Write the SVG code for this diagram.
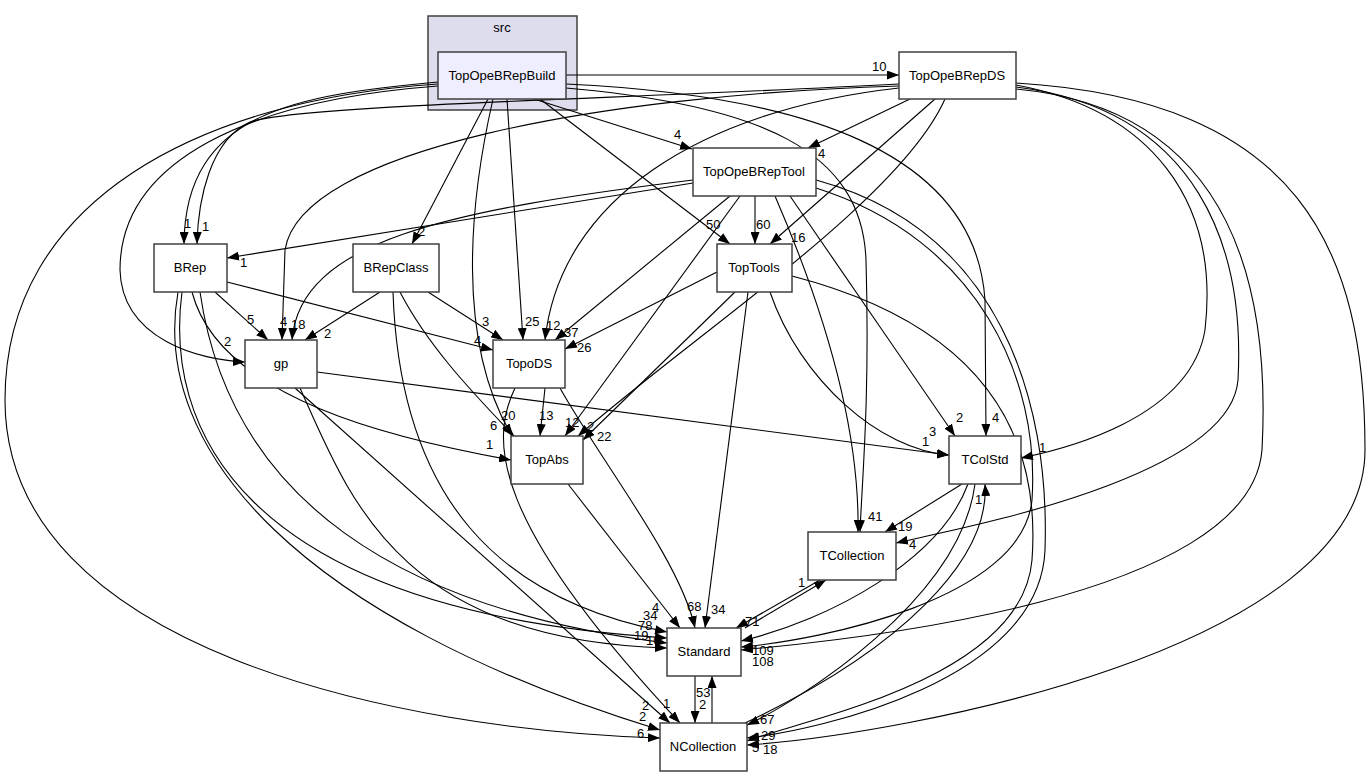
<svg xmlns="http://www.w3.org/2000/svg" width="1368" height="777" viewBox="0 0 1368 777">
<defs>
<marker id="ah" markerWidth="12" markerHeight="9" refX="12" refY="4.5" orient="auto" markerUnits="userSpaceOnUse"><path d="M0,0 L12,4.5 L0,9 z" fill="#000"/></marker>
<style>
.n rect{fill:#fff;stroke:#404040;stroke-width:1.5}
.n text{font-family:"Liberation Sans",Arial,sans-serif;font-size:13px;text-anchor:middle;fill:#000}
#edges path{fill:none;stroke:#000;stroke-width:1.1;marker-end:url(#ah)}
#labels text{font-family:"Liberation Sans",Arial,sans-serif;font-size:13px;fill:#000}
</style>
</defs>
<rect width="1368" height="777" fill="#fff"/>
<g id="cluster_src">
<rect x="428" y="16" width="149" height="94" fill="#ddddee" stroke="#404040" stroke-width="1.5"/>
<text x="502" y="32" font-family="Liberation Sans,Arial,sans-serif" font-size="13" text-anchor="middle">src</text>
</g>
<g id="edges">
<path d="M566,75 L899,75"/>
<path d="M534,99 L692,149"/>
<path d="M540,99 L730,244"/>
<path d="M507,99 L523,340"/>
<path d="M488,99 L412,244"/>
<path d="M493,99 C470,200 455,340 512,436"/>
<path d="M566,88 C760,105 862,150 866,260 C870,400 862,480 860,532"/>
<path d="M566,84 C800,95 975,150 985,300 L986,436"/>
<path d="M438,82 C300,95 185,110 184,244"/>
<path d="M438,86 C250,100 120,160 120,270 C122,340 200,360 245,362"/>
<path d="M438,84 C200,100 5,200 5,400 C5,650 400,730 660,738"/>
<path d="M899,84 C600,100 300,105 250,122 C210,140 198,200 197,244"/>
<path d="M910,99 L808,148"/>
<path d="M935,99 L770,244"/>
<path d="M945,99 C900,200 700,330 578,436"/>
<path d="M899,88 C700,110 560,200 545,340"/>
<path d="M899,86 C600,95 300,150 285,250 L282,340"/>
<path d="M1016,85 C1150,110 1220,200 1205,330 C1190,420 1060,450 1021,458"/>
<path d="M1016,87 C1200,110 1245,250 1238,380 C1230,480 950,530 896,543"/>
<path d="M1016,89 C1240,110 1270,300 1262,450 C1250,600 850,640 741,650"/>
<path d="M1016,83 C1300,100 1365,250 1365,450 C1365,650 900,735 747,745"/>
<path d="M755,196 L755,244"/>
<path d="M693,183 L227,258"/>
<path d="M693,180 C450,210 300,240 292,340"/>
<path d="M730,196 L555,340"/>
<path d="M740,196 L565,436"/>
<path d="M790,196 L955,436"/>
<path d="M775,196 C820,300 860,420 858,532"/>
<path d="M816,188 C980,240 1040,380 1032,500 C1022,600 820,640 741,647"/>
<path d="M816,180 C1000,230 1050,400 1045,550 C1040,680 820,730 747,738"/>
<path d="M717,272 L565,349"/>
<path d="M735,292 L583,440"/>
<path d="M770,292 C800,380 880,450 949,455"/>
<path d="M748,292 L705,628"/>
<path d="M792,276 C1000,330 1040,450 1032,560 C1022,680 800,720 747,741"/>
<path d="M215,292 L268,340"/>
<path d="M227,282 L493,350"/>
<path d="M192,292 C220,400 400,440 511,460"/>
<path d="M182,292 C165,420 230,610 667,638"/>
<path d="M200,292 C230,500 400,610 667,643"/>
<path d="M178,292 C150,450 300,620 660,730"/>
<path d="M380,292 L305,340"/>
<path d="M428,292 L503,340"/>
<path d="M400,292 C430,350 480,400 514,436"/>
<path d="M393,292 C400,500 500,600 667,632"/>
<path d="M317,372 L949,455"/>
<path d="M300,388 C350,500 400,640 667,648"/>
<path d="M295,388 L670,723"/>
<path d="M545,388 L540,436"/>
<path d="M560,388 C600,460 680,560 695,628"/>
<path d="M515,388 C490,440 490,520 680,723"/>
<path d="M568,484 L680,628"/>
<path d="M962,484 L885,532"/>
<path d="M968,484 C940,560 830,620 741,641"/>
<path d="M975,484 C960,600 800,700 747,725"/>
<path d="M820,580 L736,628"/>
<path d="M745,628 L826,580"/>
<path d="M695,676 L695,723"/>
<path d="M712,723 L712,676"/>
<path d="M745,723 C900,650 990,560 985,484"/>
</g>
<g id="labels">
<text x="872" y="71">10</text>
<text x="674" y="139">4</text>
<text x="818" y="158">4</text>
<text x="706" y="229">50</text>
<text x="756" y="229">60</text>
<text x="791" y="242">16</text>
<text x="184" y="228">1</text>
<text x="202" y="231">1</text>
<text x="240" y="267">1</text>
<text x="418" y="236">2</text>
<text x="247" y="324">5</text>
<text x="280" y="326">4</text>
<text x="291" y="329">18</text>
<text x="324" y="338">2</text>
<text x="224" y="346">2</text>
<text x="482" y="326">3</text>
<text x="474" y="345">4</text>
<text x="525" y="326">25</text>
<text x="546" y="330">12</text>
<text x="564" y="337">37</text>
<text x="577" y="352">26</text>
<text x="501" y="420">20</text>
<text x="490" y="430">6</text>
<text x="539" y="420">13</text>
<text x="565" y="427">12</text>
<text x="587" y="431">2</text>
<text x="597" y="441">22</text>
<text x="486" y="449">1</text>
<text x="956" y="422">2</text>
<text x="992" y="422">4</text>
<text x="929" y="436">3</text>
<text x="922" y="446">1</text>
<text x="1039" y="452">1</text>
<text x="975" y="504">1</text>
<text x="868" y="521">41</text>
<text x="898" y="531">19</text>
<text x="909" y="549">4</text>
<text x="798" y="587">1</text>
<text x="652" y="612">4</text>
<text x="643" y="620">34</text>
<text x="638" y="630">78</text>
<text x="634" y="640">19</text>
<text x="646" y="645">10</text>
<text x="687" y="611">68</text>
<text x="711" y="614">34</text>
<text x="745" y="626">71</text>
<text x="752" y="655">109</text>
<text x="752" y="666">108</text>
<text x="642" y="710">2</text>
<text x="639" y="721">2</text>
<text x="637" y="738">6</text>
<text x="663" y="708">1</text>
<text x="696" y="697">53</text>
<text x="699" y="709">2</text>
<text x="760" y="724">67</text>
<text x="761" y="740">29</text>
<text x="752" y="752">5</text>
<text x="763" y="754">18</text>
</g>
<g id="TopOpeBRepBuild" class="n"><rect x="438" y="52" width="128" height="47" style="fill:#eeeeff"/><text x="502" y="80">TopOpeBRepBuild</text></g>
<g id="TopOpeBRepDS" class="n"><rect x="899" y="52" width="117" height="47"/><text x="957" y="80">TopOpeBRepDS</text></g>
<g id="TopOpeBRepTool" class="n"><rect x="693" y="148" width="123" height="48"/><text x="754" y="176">TopOpeBRepTool</text></g>
<g id="TopTools" class="n"><rect x="717" y="244" width="75" height="48"/><text x="754" y="272">TopTools</text></g>
<g id="BRep" class="n"><rect x="154" y="244" width="73" height="48"/><text x="190" y="272">BRep</text></g>
<g id="BRepClass" class="n"><rect x="353" y="244" width="86" height="48"/><text x="396" y="272">BRepClass</text></g>
<g id="gp" class="n"><rect x="245" y="340" width="72" height="48"/><text x="281" y="368">gp</text></g>
<g id="TopoDS" class="n"><rect x="493" y="340" width="72" height="48"/><text x="529" y="368">TopoDS</text></g>
<g id="TopAbs" class="n"><rect x="511" y="436" width="72" height="48"/><text x="547" y="464">TopAbs</text></g>
<g id="TColStd" class="n"><rect x="949" y="436" width="72" height="48"/><text x="985" y="464">TColStd</text></g>
<g id="TCollection" class="n"><rect x="808" y="532" width="88" height="48"/><text x="852" y="560">TCollection</text></g>
<g id="Standard" class="n"><rect x="667" y="628" width="74" height="48"/><text x="704" y="656">Standard</text></g>
<g id="NCollection" class="n"><rect x="660" y="723" width="87" height="48"/><text x="703" y="751">NCollection</text></g>
</svg>
